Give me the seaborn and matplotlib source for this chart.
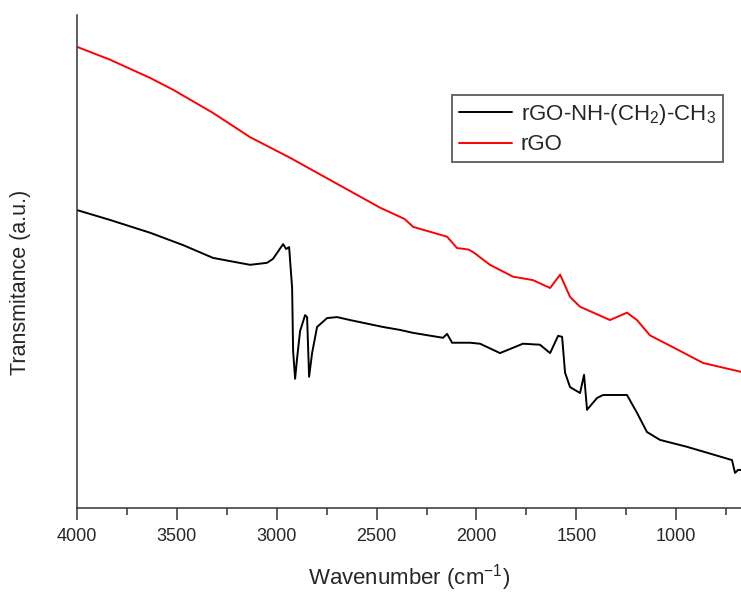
import numpy as np
import pandas as pd
import seaborn as sns
import matplotlib.pyplot as plt
from matplotlib.ticker import MultipleLocator
plt.switch_backend('agg')

# rGO (red) spectrum
wn_rgo = [4000, 3835, 3634, 3519, 3319, 3134, 2933, 2483, 2360, 2317, 2147, 2097,
          2040, 2017, 1932, 1817, 1717, 1631, 1581, 1531, 1481, 1331, 1246, 1196,
          1131, 1016, 865, 675]
tr_rgo = [93.5, 90.9, 87.2, 84.8, 80.1, 75.2, 71.0, 60.9, 58.6, 57.0, 55.0, 52.7,
          52.4, 51.9, 49.3, 46.9, 46.2, 44.6, 47.3, 42.8, 40.8, 38.1, 39.6, 38.1,
          35.0, 32.6, 29.4, 27.6]

# rGO-NH-(CH2)-CH3 (black) spectrum
wn_amine = [4000, 3835, 3634, 3469, 3319, 3134, 3049, 3019, 2968, 2953, 2938, 2923,
            2918, 2908, 2898, 2883, 2858, 2848, 2838, 2823, 2798, 2748, 2698, 2633,
            2468, 2383, 2317, 2167, 2147, 2122, 2032, 1982, 1882, 1767, 1682, 1631,
            1591, 1571, 1556, 1531, 1481, 1461, 1446, 1396, 1366, 1246, 1196, 1146,
            1081, 946, 845, 720, 705, 690, 675]
tr_amine = [60.4, 58.4, 55.8, 53.3, 50.7, 49.3, 49.7, 50.5, 53.5, 52.5, 52.9, 44.6,
            31.8, 26.2, 30.4, 35.9, 39.1, 38.7, 26.6, 31.4, 36.7, 38.5, 38.7, 38.1,
            36.7, 36.1, 35.5, 34.5, 35.3, 33.5, 33.5, 33.3, 31.4, 33.3, 33.1, 31.4,
            34.9, 34.7, 27.4, 24.5, 23.3, 27.0, 19.9, 22.3, 22.9, 22.9, 19.3, 15.4,
            13.8, 12.4, 11.2, 9.7, 7.1, 7.7, 7.7]

label_amine = r'rGO-NH-(CH$_2$)-CH$_3$'
label_rgo = 'rGO'

df = pd.concat([
    pd.DataFrame({'Wavenumber': wn_amine, 'T': tr_amine, 'Sample': label_amine}),
    pd.DataFrame({'Wavenumber': wn_rgo, 'T': tr_rgo, 'Sample': label_rgo}),
])

sns.set_style('ticks')
plt.rcParams['font.family'] = ['Liberation Sans', 'DejaVu Sans']
plt.rcParams['mathtext.fontset'] = 'custom'
plt.rcParams['mathtext.rm'] = 'Liberation Sans'

fig = plt.figure(figsize=(7.41, 5.92), dpi=100)
ax = fig.add_axes([0.104, 0.142, 0.896, 0.833])

sns.lineplot(data=df, x='Wavenumber', y='T', hue='Sample', sort=False,
             palette={label_amine: 'black', label_rgo: '#ff0000'},
             linewidth=1.4, ax=ax, estimator=None)

ax.set_xlim(4000, 675)
ax.set_ylim(0, 100)
ax.xaxis.set_major_locator(MultipleLocator(500))
ax.xaxis.set_minor_locator(MultipleLocator(250))
ax.set_yticks([])
ax.tick_params(axis='x', which='major', direction='out', length=8.5, width=1.1,
               labelsize=13, color='#333333', pad=6)
ax.tick_params(axis='x', which='minor', direction='out', length=5, width=1.1,
               color='#333333')
sns.despine(ax=ax)
for s in ['left', 'bottom']:
    ax.spines[s].set_linewidth(1.1)
    ax.spines[s].set_color('#333333')

ax.set_xlabel('Wavenumber (cm$^{-1}$)', fontsize=16, labelpad=12)
ax.set_ylabel('Transmitance (a.u.)', fontsize=15.5)
ax.yaxis.set_label_coords(-0.069, 0.458)

leg = ax.legend(loc='upper left', bbox_to_anchor=(0.5648, 0.8377), fontsize=16,
                frameon=True, fancybox=False, handlelength=2.4, handletextpad=0.4,
                borderpad=0.3, labelspacing=0.35, borderaxespad=0)
leg.get_frame().set_edgecolor('#333333')
leg.get_frame().set_linewidth(1.3)
for line in leg.get_lines():
    line.set_linewidth(1.4)

fig.savefig('out.png', dpi=100)
